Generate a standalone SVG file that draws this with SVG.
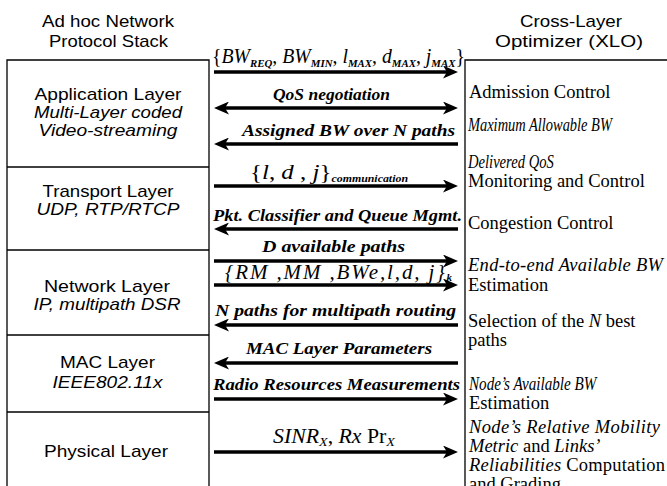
<svg xmlns="http://www.w3.org/2000/svg" width="667" height="486" viewBox="0 0 667 486">
<style>
.bg{fill:#ffffff}
.box{fill:none;stroke:#000;stroke-width:1.3}
.ar{stroke:#000;stroke-width:3.6;fill:none}
.hd{font-family:"Liberation Sans",Arial,sans-serif;font-size:17px;fill:#000}
.ly{font-family:"Liberation Sans",Arial,sans-serif;font-size:17px;fill:#000;text-anchor:middle}
.it{font-style:italic}
.lb{font-family:"Liberation Serif","Times New Roman",serif;font-size:16px;font-style:italic;font-weight:bold;fill:#000;text-anchor:middle}
.m{font-family:"Liberation Serif","Times New Roman",serif;font-size:20px;fill:#000}
.sb{font-size:11px;font-style:italic;font-weight:bold}
.rt{font-family:"Liberation Serif","Times New Roman",serif;font-size:18.5px;fill:#000}
.ri{font-family:"Liberation Serif","Times New Roman",serif;font-size:18.5px;font-style:italic;fill:#000}
</style>
<defs>
<marker id="ah" markerUnits="userSpaceOnUse" markerWidth="15" markerHeight="13" viewBox="0 0 15 13" refX="10" refY="6.5" orient="auto-start-reverse"><path d="M0,0 L15,6.5 L0,13 L4,6.5 Z" fill="#000"/></marker>
</defs>
<rect class="bg" x="0" y="0" width="667" height="486"/>
<g id="headers">
<text class="hd" x="42" y="27" textLength="132" lengthAdjust="spacingAndGlyphs">Ad hoc Network</text>
<text class="hd" x="49" y="47" textLength="119" lengthAdjust="spacingAndGlyphs">Protocol Stack</text>
<text class="hd" x="520" y="27" textLength="102" lengthAdjust="spacingAndGlyphs">Cross-Layer</text>
<text class="hd" x="495" y="47" textLength="148" lengthAdjust="spacingAndGlyphs">Optimizer (XLO)</text>
</g>
<g id="stack">
<path class="box" d="M7,487 V60 H209 V487"/>
</g>
<g id="app-layer">
<text class="ly" x="108" y="100" textLength="147" lengthAdjust="spacingAndGlyphs">Application Layer</text>
<text class="ly it" x="108" y="118" textLength="148" lengthAdjust="spacingAndGlyphs">Multi-Layer coded</text>
<text class="ly it" x="108" y="136" textLength="139" lengthAdjust="spacingAndGlyphs">Video-streaming</text>
</g>
<g id="transport-layer">
<line class="box" x1="7" y1="167" x2="209" y2="167"/>
<text class="ly" x="108" y="197" textLength="131" lengthAdjust="spacingAndGlyphs">Transport Layer</text>
<text class="ly it" x="108" y="215" textLength="143" lengthAdjust="spacingAndGlyphs">UDP, RTP/RTCP</text>
</g>
<g id="network-layer">
<line class="box" x1="7" y1="250" x2="209" y2="250"/>
<text class="ly" x="107" y="292" textLength="126" lengthAdjust="spacingAndGlyphs">Network Layer</text>
<text class="ly it" x="107" y="310" textLength="147" lengthAdjust="spacingAndGlyphs">IP, multipath DSR</text>
</g>
<g id="mac-layer">
<line class="box" x1="7" y1="335" x2="209" y2="335"/>
<text class="ly" x="107.5" y="368" textLength="95" lengthAdjust="spacingAndGlyphs">MAC Layer</text>
<text class="ly it" x="107.5" y="388" textLength="110" lengthAdjust="spacingAndGlyphs">IEEE802.11x</text>
</g>
<g id="physical-layer">
<line class="box" x1="7" y1="412" x2="209" y2="412"/>
<text class="ly" x="106" y="457" textLength="124" lengthAdjust="spacingAndGlyphs">Physical Layer</text>
</g>
<g id="xlo">
<path class="box" d="M465,487 V60 H668"/>
<text class="rt" x="469" y="98">Admission Control</text>
<text class="ri" transform="translate(468,131) scale(0.78,1)">Maximum Allowable BW</text>
<text class="ri" transform="translate(468,168) scale(0.79,1)">Delivered QoS</text>
<text class="rt" x="468" y="187">Monitoring and Control</text>
<text class="rt" x="468" y="229">Congestion Control</text>
<text class="ri" x="468" y="271" textLength="195" lengthAdjust="spacing">End-to-end Available BW</text>
<text class="rt" x="468" y="291">Estimation</text>
<text class="rt" x="468" y="327">Selection of the <tspan class="it">N</tspan> best</text>
<text class="rt" x="468" y="346">paths</text>
<text class="ri" transform="translate(469,390) scale(0.82,1)">Node’s Available BW</text>
<text class="rt" x="469" y="409">Estimation</text>
<text class="ri" x="469" y="433" textLength="191" lengthAdjust="spacing">Node’s Relative Mobility</text>
<text class="rt" x="469" y="452"><tspan class="it">Metric</tspan> and <tspan class="it">Links’</tspan></text>
<text class="rt" x="469" y="471" textLength="196" lengthAdjust="spacing"><tspan class="it">Reliabilities</tspan> Computation</text>
<text class="rt" x="469" y="490">and Grading</text>
</g>
<g id="connectors">
<line class="ar" x1="214" y1="72" x2="453" y2="72" marker-end="url(#ah)"/>
<line class="ar" x1="219" y1="108" x2="453" y2="108" marker-start="url(#ah)" marker-end="url(#ah)"/>
<line class="ar" x1="458" y1="144" x2="219" y2="144" marker-end="url(#ah)"/>
<line class="ar" x1="214" y1="186" x2="453" y2="186" marker-end="url(#ah)"/>
<line class="ar" x1="458" y1="229" x2="219" y2="229" marker-end="url(#ah)"/>
<line class="ar" x1="214" y1="261" x2="453" y2="261" marker-end="url(#ah)"/>
<line class="ar" x1="214" y1="285" x2="453" y2="285" marker-end="url(#ah)"/>
<line class="ar" x1="458" y1="325" x2="219" y2="325" marker-end="url(#ah)"/>
<line class="ar" x1="458" y1="363" x2="219" y2="363" marker-end="url(#ah)"/>
<line class="ar" x1="214" y1="399" x2="453" y2="399" marker-end="url(#ah)"/>
<line class="ar" x1="214" y1="452" x2="453" y2="452" marker-end="url(#ah)"/>
</g>
<g id="connector-labels">
<text class="m" x="212" y="63" textLength="253" lengthAdjust="spacingAndGlyphs">{<tspan class="it">BW</tspan><tspan class="sb" dy="4">REQ</tspan><tspan dy="-4">, </tspan><tspan class="it">BW</tspan><tspan class="sb" dy="4">MIN</tspan><tspan dy="-4">, </tspan><tspan class="it">l</tspan><tspan class="sb" dy="4">MAX</tspan><tspan dy="-4">, </tspan><tspan class="it">d</tspan><tspan class="sb" dy="4">MAX</tspan><tspan dy="-4">, </tspan><tspan class="it">j</tspan><tspan class="sb" dy="4">MAX</tspan><tspan dy="-4">}</tspan></text>
<text class="lb" x="331.5" y="100" textLength="117" lengthAdjust="spacingAndGlyphs">QoS negotiation</text>
<text class="lb" x="348.5" y="136" textLength="213" lengthAdjust="spacingAndGlyphs">Assigned BW over N paths</text>
<text class="m" x="250" y="179" style="font-size:21px" textLength="158" lengthAdjust="spacingAndGlyphs">{<tspan class="it">l</tspan>, <tspan class="it">d</tspan> , <tspan class="it">j</tspan>}<tspan class="sb" style="font-size:10px" dy="3">communication</tspan></text>
<text class="lb" x="337.5" y="221" textLength="249" lengthAdjust="spacingAndGlyphs">Pkt. Classifier and Queue Mgmt.</text>
<text class="lb" x="333.5" y="252" textLength="143" lengthAdjust="spacingAndGlyphs">D available paths</text>
<text class="m it" x="225" y="279" style="font-size:21px" textLength="227" lengthAdjust="spacing">{RM ,MM ,BWe,l,d, j}<tspan class="sb" style="font-size:11px" dy="2">k</tspan></text>
<text class="lb" x="335.5" y="316" textLength="241" lengthAdjust="spacingAndGlyphs">N paths for multipath routing</text>
<text class="lb" x="339" y="354" textLength="186" lengthAdjust="spacingAndGlyphs">MAC Layer Parameters</text>
<text class="lb" x="336.5" y="390" textLength="247" lengthAdjust="spacingAndGlyphs">Radio Resources Measurements</text>
<text class="m" x="273" y="443" textLength="122" lengthAdjust="spacingAndGlyphs"><tspan class="it">SINR</tspan><tspan class="it" style="font-size:13px" dy="3">X</tspan><tspan dy="-3">, </tspan><tspan class="it">Rx</tspan> Pr<tspan class="it" style="font-size:13px" dy="3">X</tspan></text>
</g>
</svg>
